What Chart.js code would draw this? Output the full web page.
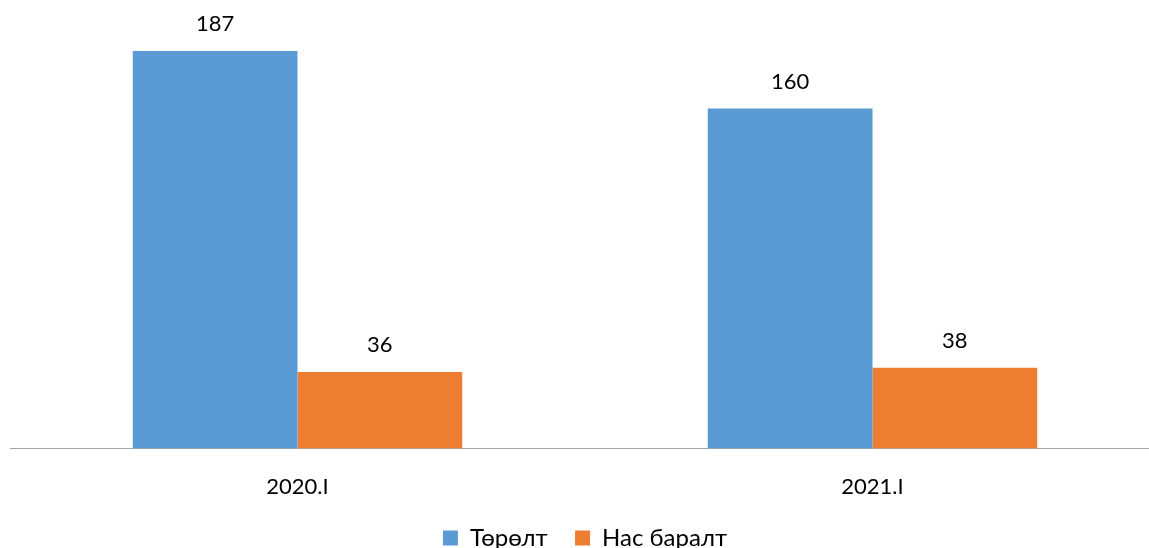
<!DOCTYPE html>
<html>
<head>
<meta charset="utf-8">
<script src="https://cdn.jsdelivr.net/npm/chart.js@4"></script>
<style>
  html, body { margin: 0; padding: 0; background: #fff; overflow: hidden; }
  #wrap { position: absolute; left: 0; top: 0; width: 1160px; height: 560px; }
</style>
</head>
<body>
<div id="wrap"><canvas id="chart1"></canvas></div>
<script>
// data
const categories = ['2020.I', '2021.I'];
const births = [187, 160];
const deaths = [36, 38];
const seriesNames = ['Төрөлт', 'Нас баралт'];

const FONT = 'Lato, "Noto Sans", sans-serif';

// values above the bars
const valueLabels = {
  id: 'valueLabels',
  afterDatasetsDraw(chart) {
    const c = chart.ctx;
    c.save();
    c.font = '22px ' + FONT;
    c.fillStyle = '#000';
    c.textAlign = 'center';
    c.textBaseline = 'middle';
    chart.data.datasets.forEach((ds, i) => {
      chart.getDatasetMeta(i).data.forEach((bar, k) => {
        c.fillText(ds.data[k], bar.x, bar.y - 27);
      });
    });
    c.restore();
  }
};

const ctx = document.getElementById('chart1');

new Chart(ctx, {
  type: 'bar',
  data: {
    labels: categories,
    datasets: [
      { label: seriesNames[0], data: births, backgroundColor: '#5B9BD5' },
      { label: seriesNames[1], data: deaths, backgroundColor: '#ED7D31' }
    ]
  },
  options: {
    responsive: true,
    maintainAspectRatio: false,
    animation: false,
    layout: { padding: { left: 10, right: 0, top: 0, bottom: 0 } },
    datasets: { bar: { barPercentage: 1, categoryPercentage: 0.573 } },
    plugins: {
      legend: {
        position: 'bottom',
        labels: {
          font: { family: FONT, size: 24 },
          color: '#000',
          boxWidth: 15,
          boxHeight: 15,
          padding: 9,
          // a little more room between the two entries
          generateLabels(chart) {
            const items = Chart.defaults.plugins.legend.labels.generateLabels(chart);
            items[0].text += '   ';
            return items;
          }
        }
      },
      tooltip: { enabled: false }
    },
    scales: {
      x: {
        grid: { display: false },
        border: { display: true, color: '#a6a6a6', width: 1 },
        ticks: { font: { family: FONT, size: 22 }, color: '#000', padding: 17 }
      },
      y: { display: false, min: 0, max: 211 }
    }
  },
  plugins: [valueLabels]
});
</script>
</body>
</html>
